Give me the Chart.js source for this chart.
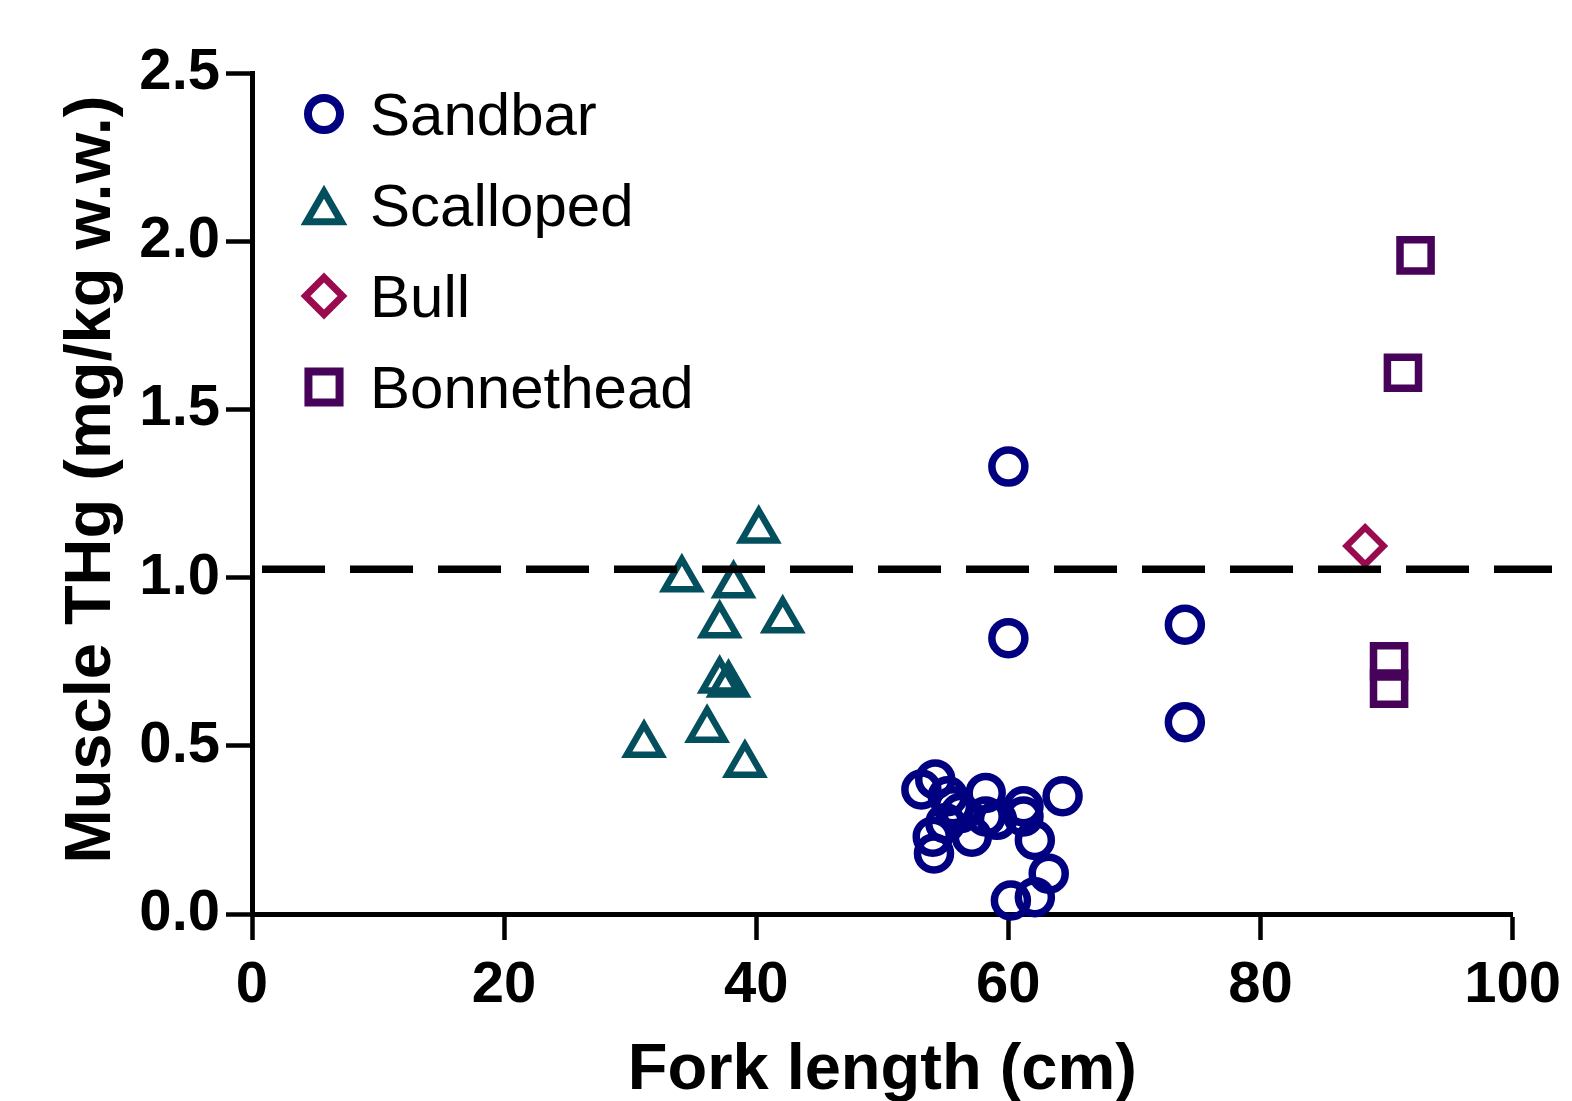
<!DOCTYPE html>
<html>
<head>
<meta charset="utf-8">
<script src="https://cdn.jsdelivr.net/npm/chart.js@4.4.0/dist/chart.umd.min.js"></script>
<style>
  html, body { margin: 0; padding: 0; background: #fff; }
</style>
</head>
<body>
<canvas id="thgChart" width="1572" height="1101"></canvas>
<script>
// species shown in the legend
const speciesNames = ["Sandbar", "Scalloped", "Bull", "Bonnethead"];

// fork length (cm) and muscle THg (mg/kg w.w.)
const sandbarLength = [53.1, 54.2, 55.2, 55.6, 55.0, 54.0, 54.1, 57.1, 58.2, 58.2, 59.1, 56.2,
                       61.2, 61.2, 62.1, 63.2, 60.2, 62.1, 64.3, 60.0, 60.0, 74.0, 74.0];
const sandbarTHg    = [0.37, 0.40, 0.35, 0.32, 0.27, 0.23, 0.18, 0.23, 0.36, 0.29, 0.28, 0.30,
                       0.32, 0.29, 0.22, 0.12, 0.04, 0.05, 0.35, 1.33, 0.82, 0.86, 0.57];

const scallopedLength = [40.2, 34.1, 38.2, 37.1, 42.1, 37.1, 37.8, 36.1, 31.1, 39.1];
const scallopedTHg    = [1.14, 0.995, 0.977, 0.858, 0.873, 0.694, 0.682, 0.548, 0.503, 0.444];

const bullLength = [88.3];
const bullTHg    = [1.094];

const bonnetheadLength = [92.3, 91.3, 90.2, 90.2];
const bonnetheadTHg    = [1.958, 1.609, 0.751, 0.670];

// consumption guideline drawn as a dashed line
const guidelineTHg = 1.025;

const xTicks = [0, 20, 40, 60, 80, 100];
const yTicks = [0, 0.5, 1.0, 1.5, 2.0, 2.5];

const yTitle = "Muscle THg (mg/kg w.w.)";
const xTitle = "Fork length (cm)";

const FONT = '"Liberation Sans", Arial, Helvetica, sans-serif';

function toPoints(xs, ys) {
    return xs.map((x, i) => ({ x: x, y: ys[i] }));
}

const seriesStyle = [
    { color: "#000080", style: "circle",   radius: 16.5, width: 7.5 },
    { color: "#044f5e", style: "triangle", radius: 20,   width: 6.5 },
    { color: "#9a0a4e", style: "rectRot",  radius: 18.5, width: 6.5 },
    { color: "#47035a", style: "rect",     radius: 22,   width: 7.5 }
];
const seriesData = [
    toPoints(sandbarLength, sandbarTHg),
    toPoints(scallopedLength, scallopedTHg),
    toPoints(bullLength, bullTHg),
    toPoints(bonnetheadLength, bonnetheadTHg)
];

// dashed guideline across the plot
const guidelinePlugin = {
    id: "guideline",
    afterDatasetsDraw(chart) {
        const ctx = chart.ctx;
        const y = chart.scales.y.getPixelForValue(guidelineTHg);
        ctx.save();
        ctx.strokeStyle = "#000";
        ctx.lineWidth = 7.5;
        ctx.setLineDash([63, 25]);
        ctx.beginPath();
        ctx.moveTo(chart.chartArea.left + 10, y);
        ctx.lineTo(chart.width - 20, y);
        ctx.stroke();
        ctx.restore();
    }
};

// rotated y title, sitting a bit above the plot's middle like the original
const yTitlePlugin = {
    id: "yTitle",
    afterDraw(chart) {
        const ctx = chart.ctx;
        const area = chart.chartArea;
        ctx.save();
        ctx.translate(92, (area.top + area.bottom) / 2 - 14);
        ctx.rotate(-Math.PI / 2);
        ctx.fillStyle = "#000";
        ctx.font = "bold 65px " + FONT;
        ctx.textAlign = "center";
        ctx.textBaseline = "middle";
        ctx.fillText(yTitle, 0, 0);
        ctx.restore();
    }
};

// legend sits inside the plot, top left
const legendSizes = [
    { radius: 16,   width: 8 },
    { radius: 20,   width: 7 },
    { radius: 18.5, width: 7 },
    { radius: 22,   width: 8 }
];
const insideLegend = {
    id: "insideLegend",
    afterDraw(chart) {
        const ctx = chart.ctx;
        const area = chart.chartArea;
        chart.data.datasets.forEach((ds, i) => {
            const cx = area.left + 72;
            const cy = area.top + 41 + i * 91;
            const sz = legendSizes[i];
            let dy = 0;
            if (ds.pointStyle === "triangle") dy = (sz.radius + sz.width) / 4;
            ctx.save();
            ctx.strokeStyle = ds.borderColor;
            ctx.fillStyle = "rgba(0,0,0,0)";
            ctx.lineWidth = sz.width;
            Chart.helpers.drawPoint(ctx, {
                pointStyle: ds.pointStyle, radius: sz.radius, rotation: 0, borderWidth: sz.width
            }, cx, cy + dy);
            ctx.fillStyle = "#000";
            ctx.font = "60px " + FONT;
            ctx.textBaseline = "middle";
            ctx.textAlign = "left";
            ctx.fillText(ds.label, area.left + 118, cy + 4);
            ctx.restore();
        });
    }
};

const ctx = document.getElementById("thgChart").getContext("2d");
new Chart(ctx, {
    type: "scatter",
    data: {
        datasets: speciesNames.map((name, i) => ({
            label: name,
            data: seriesData[i],
            pointStyle: seriesStyle[i].style,
            pointRadius: seriesStyle[i].radius,
            pointHoverRadius: seriesStyle[i].radius,
            pointBorderWidth: seriesStyle[i].width,
            borderColor: seriesStyle[i].color,
            backgroundColor: "rgba(0,0,0,0)",
            showLine: false,
            clip: false
        }))
    },
    options: {
        responsive: false,
        animation: false,
        layout: { padding: { top: 73, right: 56, left: 0, bottom: 0 } },
        plugins: {
            legend: { display: false },
            tooltip: { enabled: false }
        },
        scales: {
            x: {
                type: "linear",
                min: 0,
                max: 100,
                afterFit: (scale) => { scale.height = 187; },
                afterBuildTicks: (scale) => { scale.ticks = xTicks.map(v => ({ value: v })); },
                ticks: {
                    color: "#000",
                    font: { family: FONT, size: 58, weight: "bold" },
                    padding: 11,
                    maxRotation: 0
                },
                grid: {
                    drawOnChartArea: false,
                    drawTicks: true,
                    tickLength: 26,
                    tickWidth: 4.5,
                    tickColor: "#000"
                },
                border: { display: true, color: "#000", width: 5 },
                title: {
                    display: true,
                    text: xTitle,
                    color: "#000",
                    font: { family: FONT, size: 65, weight: "bold", lineHeight: 0.92 },
                    padding: { top: 0, bottom: 0 }
                }
            },
            y: {
                type: "linear",
                min: 0,
                max: 2.5,
                afterFit: (scale) => { scale.width = 252; },
                afterBuildTicks: (scale) => { scale.ticks = yTicks.map(v => ({ value: v })); },
                ticks: {
                    color: "#000",
                    font: { family: FONT, size: 58, weight: "bold" },
                    padding: 6,
                    callback: (v) => Number(v).toFixed(1)
                },
                grid: {
                    drawOnChartArea: false,
                    drawTicks: true,
                    tickLength: 26,
                    tickWidth: 4.5,
                    tickColor: "#000"
                },
                border: { display: true, color: "#000", width: 5 }
            }
        }
    },
    plugins: [guidelinePlugin, yTitlePlugin, insideLegend]
});
</script>
</body>
</html>
